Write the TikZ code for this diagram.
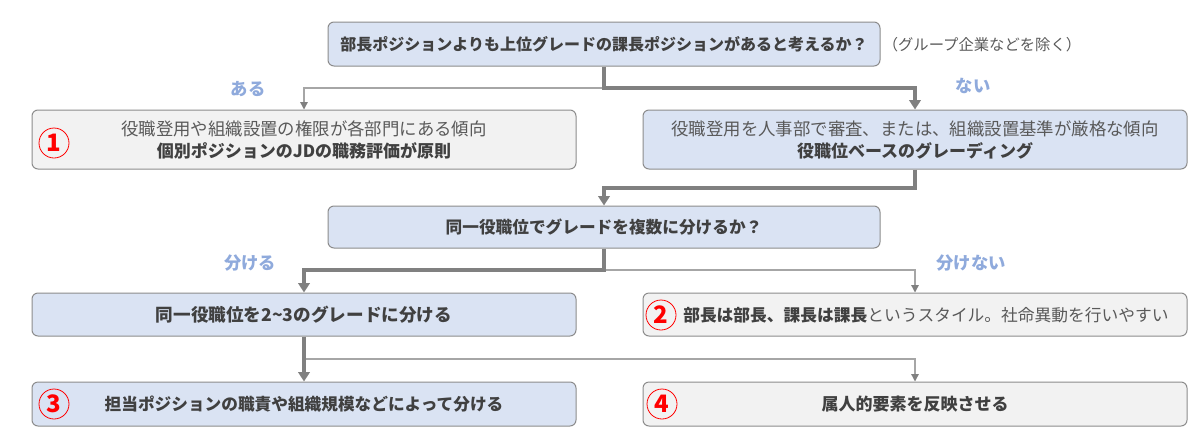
\documentclass[tikz,border=0pt]{standalone}
\usepackage{fontspec}
\setmainfont{Noto Sans CJK JP}
\usetikzlibrary{arrows.meta}
\definecolor{bluefill}{HTML}{DAE3F3}
\definecolor{grayfill}{HTML}{F2F2F2}
\definecolor{boxline}{HTML}{8C8C8C}
\definecolor{conn}{HTML}{808080}
\definecolor{conntwo}{HTML}{A6A6A6}
\definecolor{txt}{HTML}{595959}
\definecolor{txtb}{HTML}{404040}
\definecolor{lbl}{HTML}{8FAADC}
\definecolor{numred}{HTML}{FF0000}
\begin{document}
\begin{tikzpicture}[x=0.75pt,y=-0.75pt,
  box/.style={draw=boxline,line width=0.75pt,rounded corners=4.5pt,inner sep=0pt,align=center,text=txt,
    font=\fontsize{13.05}{16.5}\selectfont},
  bluebox/.style={box,fill=bluefill},
  graybox/.style={box,fill=grayfill},
  widebox/.style={minimum width=408pt},
  midbox/.style={minimum width=414pt},
  mainarrow/.style={draw=conn,line width=3pt,-{Triangle[length=7pt,width=8.5pt]}},
  sidearrow/.style={draw=conntwo,line width=1pt,-{Triangle[length=5.5pt,width=5.5pt,color=conn]}},
  lab/.style={text=lbl,font=\fontsize{13}{13}\selectfont\bfseries,inner sep=0pt},
  numc/.style={circle,draw=numred,line width=0.6pt,minimum size=22.5pt,inner sep=0pt,text=numred,
    font=\fontsize{18}{18}\selectfont\bfseries},
]
\useasboundingbox (0,0) rectangle (1200,440);
% boxes
\node[bluebox,midbox,minimum height=33pt,font=\fontsize{12}{14}\selectfont\bfseries,text=txtb] (top) at (604,44)
  {部長ポジションよりも上位グレードの課長ポジションがあると考えるか？};
\node[text=txt,font=\fontsize{11.5}{14}\selectfont,inner sep=0pt] (note) at (982,45) {（グループ企業などを除く）};
\node[graybox,widebox,minimum height=44.25pt] (b1) at (304,139.5)
  {役職登用や組織設置の権限が各部門にある傾向\\{\fontsize{12.75}{16.5}\selectfont\bfseries\color{txtb}個別ポジションのJDの職務評価が原則}};
\node[bluebox,widebox,minimum height=44.25pt] (b2) at (915,139.5)
  {役職登用を人事部で審査、または、組織設置基準が厳格な傾向\\{\fontsize{12.75}{16.5}\selectfont\bfseries\color{txtb}役職位ベースのグレーディング}};
\node[bluebox,midbox,minimum height=31.5pt,font=\fontsize{12.5}{14}\selectfont\bfseries,text=txtb] (b3) at (604,227)
  {同一役職位でグレードを複数に分けるか？};
\node[bluebox,widebox,minimum height=32.25pt,font=\fontsize{13.2}{14}\selectfont\bfseries,text=txtb] (b4) at (304,314.5)
  {同一役職位を2\symbol{"7E}3のグレードに分ける};
\node[graybox,widebox,minimum height=32.25pt] (b5) at (915,314.5) {};
\node[anchor=west,inner sep=0pt,text=txt,font=\fontsize{12.55}{16.5}\selectfont] (b5t) at (683,315)
  {{\bfseries\color{txtb}部長は部長、課長は課長}というスタイル。社命異動を行いやすい};
\node[bluebox,widebox,minimum height=33pt,font=\fontsize{12.5}{14}\selectfont\bfseries,text=txtb] (b6) at (304,404)
  {担当ポジションの職責や組織規模などによって分ける};
\node[graybox,widebox,minimum height=33pt,font=\fontsize{12.75}{14}\selectfont\bfseries,text=txtb] (b7) at (915,404)
  {属人的要素を反映させる};
% numbers
\node[numc] (n1) at (54,143) {1};
\node[numc] (n2) at (661,315) {2};
\node[numc] (n3) at (54,404) {3};
\node[numc] (n4) at (662,404) {4};
% labels
\node[lab] (l1) at (248,89) {ある};
\node[lab] (l2) at (973,86) {ない};
\node[lab] (l3) at (250,263) {分ける};
\node[lab] (l4) at (971,263) {分けない};
% junctions
\coordinate (j1) at (604,88);
\coordinate (j2) at (915,188);
\coordinate (j3) at (604,270);
\coordinate (j4) at (304,359);
% connectors
\draw[sidearrow] (j1) -| (b1.north);
\draw[mainarrow] (top.south) -- (j1) -| (b2.north);
\draw[mainarrow] (b2.south) -- (j2) -| (b3.north);
\draw[sidearrow] (j3) -| (b5.north);
\draw[mainarrow] (b3.south) -- (j3) -| (b4.north);
\draw[sidearrow] (j4) -| (b7.north);
\draw[mainarrow] (b4.south) -- (b6.north);
\end{tikzpicture}
\end{document}
